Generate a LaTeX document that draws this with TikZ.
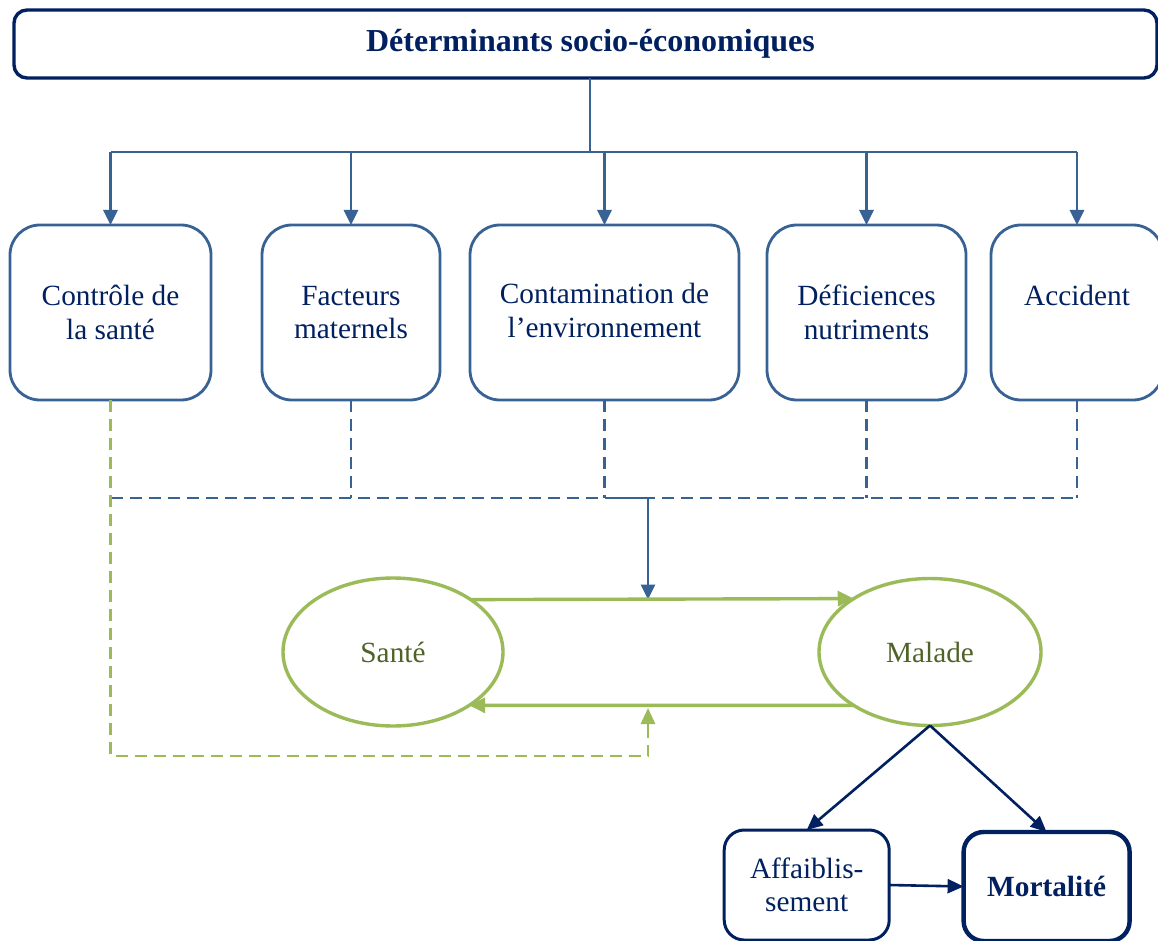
\documentclass[tikz,border=0pt]{standalone}
\usepackage{fontspec}
\setmainfont{Liberation Serif}
\usetikzlibrary{arrows.meta,shapes.geometric,calc}
\definecolor{cblue}{RGB}{56,97,148}
\definecolor{cnavy}{RGB}{0,32,96}
\definecolor{cgreen}{RGB}{155,187,89}
\definecolor{cdgreen}{RGB}{79,98,40}
\begin{document}
\begin{tikzpicture}[x=1pt,y=-1pt,
  txt/.style={font=\fontsize{29.3}{33.5}\selectfont},
  box/.style={draw=cblue, line width=2.8pt, rounded corners=30pt, align=center,
    text=cnavy, txt, inner sep=0pt, outer sep=0pt, minimum height=175pt},
  titlebox/.style={draw=cnavy, line width=3.4pt, rounded corners=13pt, align=center,
    text=cnavy, font=\fontsize{32}{36}\selectfont\bfseries, inner sep=0pt, outer sep=0pt},
  oval/.style={ellipse, draw=cgreen, line width=3.4pt, text=cdgreen, txt,
    inner sep=0pt, outer sep=0pt},
  nbox/.style={draw=cnavy, line width=3pt, rounded corners=20pt, align=center,
    text=cnavy, txt, inner sep=0pt, outer sep=0pt},
  bline/.style={draw=cblue, line width=2.8pt},
  barr/.style={bline, -{Triangle[length=15pt,width=14pt]}},
  bdash/.style={bline, dash pattern=on 12pt off 7pt},
  gline/.style={draw=cgreen, line width=3.4pt},
  garr/.style={gline, -{Triangle[length=16pt,width=15pt]}},
  gdash/.style={draw=cgreen, line width=2.8pt, dash pattern=on 12pt off 7pt},
  narr/.style={draw=cnavy, line width=2.6pt, -{Triangle[length=16pt,width=14pt]}}
]
\useasboundingbox (0,0) rectangle (1158,941);
\fill[white] (0,0) rectangle (1158,941);

% title
\node[titlebox, minimum width=1143pt, minimum height=68pt] (title) at (585.5,44) {\hspace*{10pt}Déterminants socio-économiques};

% determinant boxes
\node[box, minimum width=201pt] (b1) at (110.5,312.5) {Contrôle de\\la santé};
\node[box, minimum width=178pt] (b2) at (351,312.5) {Facteurs\\maternels};
\node[box, minimum width=269pt] (b3) at (604.5,312.5) {\raisebox{4pt}{Contamination de}\\\raisebox{4pt}{l’environnement}};
\node[box, minimum width=199pt] (b4) at (866.5,312.5) {Déficiences\\nutriments};
\node[box, minimum width=172pt] (b5) at (1077,312.5) {Accident\\\phantom{x}};

% states
\node[oval, minimum width=220pt, minimum height=148pt] (sante) at (393,652) {Santé};
\node[oval, minimum width=222pt, minimum height=147pt] (malade) at (930,652) {Malade};

% outcomes
\node[nbox, minimum width=165pt, minimum height=110pt] (aff) at (806.7,885) {Affaiblis-\\sement};
\node[nbox, line width=4.4pt, minimum width=166pt, minimum height=109pt, font=\fontsize{29.3}{33.5}\selectfont\bfseries] (mort) at (1046.6,886.5) {Mortalité};

% coordinates
\coordinate (hub) at (590,152);
\coordinate (dbus) at (0,498);
\coordinate (join) at (648,498);
\coordinate (gtip) at (648,708);
\coordinate (gbot) at (648,756);
\coordinate (gpre) at (648,726);

% top distribution
\draw[bline] (title.south -| hub) -- (hub);
\draw[bline] (b1.north |- hub) -- (b5.north |- hub);
\foreach \b in {b1,b2,b3,b4,b5}
  \draw[barr] (\b.north |- hub) -- (\b.north);

% dashed collection
\foreach \b in {b2,b3,b4,b5}
  \draw[bdash] (\b.south) -- (\b.south |- dbus);
\draw[bdash] (b1.south |- dbus) -- (b5.south |- dbus);
\draw[barr] (b3.south |- dbus) -- (join) -- (join |- sante.34.6);

% green dashed feedback
\draw[gdash] (b1.south) -- (b1.south |- gbot) -- (gbot) -- (gpre);
\draw[draw=cgreen, line width=2.8pt, -{Triangle[length=16pt,width=14pt]}] (gpre) -- (gtip);

% transitions
\draw[garr] (sante.34.6) -- (malade.145.4);
\draw[garr] (malade.215.6) -- (sante.-35.7);

% outcomes
\draw[narr] (malade.south) -- (aff.north);
\draw[narr] (malade.south) -- (mort.north);
\draw[narr] (aff.east) -- (mort.west);
\end{tikzpicture}
\end{document}
